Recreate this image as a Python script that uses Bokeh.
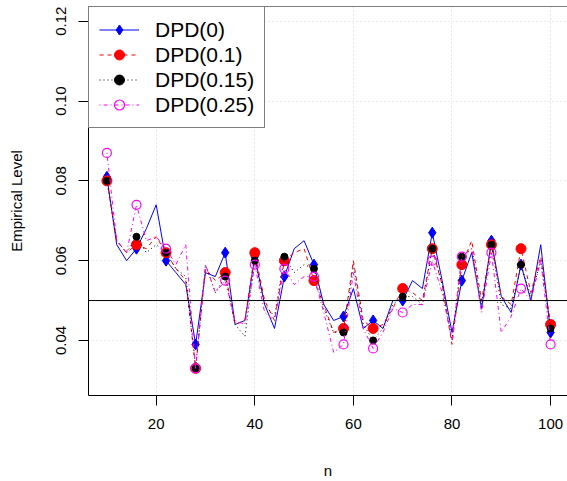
from bokeh.plotting import figure
from bokeh.models import Range1d, FixedTicker, NumeralTickFormatter, Span, ColumnDataSource
from bokeh.embed import file_html
from bokeh.resources import INLINE

# ---- data ----
n = [10, 12, 14, 16, 18, 20, 22, 24, 26, 28, 30, 32, 34, 36, 38, 40, 42, 44, 46, 48, 50, 52, 54,
     56, 58, 60, 62, 64, 66, 68, 70, 72, 74, 76, 78, 80, 82, 84, 86, 88, 90, 92, 94, 96, 98, 100]
dpd_0 = [0.081, 0.064, 0.060, 0.063, 0.068, 0.074, 0.060, 0.057, 0.054, 0.039, 0.057, 0.056, 0.062,
         0.044, 0.045, 0.061, 0.049, 0.043, 0.056, 0.063, 0.065, 0.059, 0.049, 0.045, 0.046, 0.053,
         0.043, 0.045, 0.043, 0.050, 0.050, 0.055, 0.053, 0.067, 0.055, 0.042, 0.055, 0.062, 0.048,
         0.065, 0.051, 0.047, 0.059, 0.050, 0.064, 0.042]
dpd_01 = [0.080, 0.065, 0.062, 0.064, 0.063, 0.066, 0.062, 0.058, 0.055, 0.033, 0.058, 0.055, 0.057,
          0.044, 0.045, 0.062, 0.050, 0.045, 0.060, 0.062, 0.063, 0.055, 0.049, 0.042, 0.043, 0.060,
          0.045, 0.043, 0.044, 0.048, 0.053, 0.052, 0.050, 0.063, 0.054, 0.039, 0.059, 0.065, 0.050,
          0.064, 0.051, 0.049, 0.063, 0.052, 0.061, 0.044]
dpd_015 = [0.080, 0.065, 0.062, 0.066, 0.062, 0.064, 0.062, 0.058, 0.056, 0.033, 0.059, 0.052, 0.056,
           0.044, 0.041, 0.060, 0.049, 0.046, 0.061, 0.057, 0.059, 0.058, 0.048, 0.042, 0.042, 0.059,
           0.044, 0.040, 0.043, 0.049, 0.051, 0.051, 0.049, 0.063, 0.054, 0.040, 0.061, 0.063, 0.049,
           0.064, 0.049, 0.048, 0.059, 0.051, 0.060, 0.043]
dpd_025 = [0.087, 0.065, 0.062, 0.074, 0.065, 0.066, 0.063, 0.059, 0.064, 0.033, 0.059, 0.052, 0.055,
           0.045, 0.044, 0.059, 0.047, 0.045, 0.058, 0.054, 0.056, 0.056, 0.047, 0.037, 0.039, 0.057,
           0.043, 0.038, 0.042, 0.048, 0.047, 0.049, 0.049, 0.060, 0.052, 0.040, 0.061, 0.063, 0.047,
           0.062, 0.042, 0.046, 0.053, 0.050, 0.060, 0.039]
labels = ["DPD(0)", "DPD(0.1)", "DPD(0.15)", "DPD(0.25)"]
nominal_level = 0.05
x_ticks = [20, 40, 60, 80, 100]
y_ticks = [0.04, 0.06, 0.08, 0.10, 0.12]

FONT = "Liberation Sans"
Y_TOP = 0.1237

p = figure(width=567, height=481, output_backend="svg", toolbar_location=None,
           x_range=Range1d(6.27, 103.43), y_range=Range1d(0.0262, Y_TOP),
           min_border_left=88, min_border_right=0, min_border_top=6, min_border_bottom=81)

p.outline_line_color = None
p.background_fill_color = "white"
p.border_fill_color = "white"

# grid
for g in (p.xgrid, p.ygrid):
    g.grid_line_color = "#d3d3d3"
    g.grid_line_dash = "1 3"
    g.grid_line_width = 1
p.xgrid.ticker = FixedTicker(ticks=x_ticks)
p.ygrid.ticker = FixedTicker(ticks=y_ticks)

# axes
p.xaxis.ticker = FixedTicker(ticks=x_ticks)
p.yaxis.ticker = FixedTicker(ticks=y_ticks)
p.yaxis.formatter = NumeralTickFormatter(format="0.00")
for ax in (p.xaxis, p.yaxis):
    ax.axis_line_color = "black"
    ax.axis_line_width = 1
    ax.major_tick_line_color = "black"
    ax.major_tick_out = 10
    ax.major_tick_in = 0
    ax.minor_tick_line_color = None
    ax.major_label_text_font = FONT
    ax.major_label_text_font_size = "15px"
    ax.major_label_text_color = "black"
    ax.axis_label_text_font = FONT
    ax.axis_label_text_font_size = "15px"
    ax.axis_label_text_font_style = "normal"
    ax.axis_label_text_color = "black"
p.xaxis.axis_label = "n"
p.yaxis.axis_label = "Empirical Level"
p.xaxis.major_label_standoff = 13
p.xaxis.axis_label_standoff = 30
p.yaxis.major_label_orientation = "vertical"
p.yaxis.major_label_standoff = 12
p.yaxis.axis_label_standoff = 29

# top border of box
p.add_layout(Span(location=Y_TOP, dimension="width", line_color="black", line_width=1))
# nominal level
p.add_layout(Span(location=nominal_level, dimension="width", line_color="black", line_width=1))

series = [dpd_0, dpd_01, dpd_015, dpd_025]
colors = ["#0000FF", "#FF0000", "#000000", "#FF00FF"]
dashes = ["solid", "4 4", "1 3", "1 3 4 3"]
markers = ["diamond", "circle", "circle", "circle"]
sizes = [11, 10, 7, 9]
fills = [True, True, True, False]

for ys, lab, col, dash, mk, sz, fl in zip(series, labels, colors, dashes, markers, sizes, fills):
    src = ColumnDataSource(dict(x=n, y=ys))
    msrc = ColumnDataSource(dict(x=n[::3], y=ys[::3]))
    p.line("x", "y", source=src, line_color=col, line_width=1, line_dash=dash, legend_label=lab)
    if fl:
        p.scatter("x", "y", source=msrc, marker=mk, size=sz, fill_color=col, line_color=col,
                  line_width=1, legend_label=lab)
    else:
        p.scatter("x", "y", source=msrc, marker=mk, size=sz, fill_color=None, line_color=col,
                  line_width=1.2, legend_label=lab)

lg = p.legend[0]
lg.location = "top_left"
lg.margin = 0
lg.padding = 10
lg.spacing = 0
lg.glyph_width = 40
lg.glyph_height = 25
lg.label_height = 25
lg.label_standoff = 16
lg.label_text_font = FONT
lg.label_text_font_size = "21px"
lg.label_text_color = "black"
lg.border_line_color = "black"
lg.border_line_width = 1
lg.background_fill_color = "white"
lg.background_fill_alpha = 1.0

open("out.html", "w").write(file_html(p, INLINE))
